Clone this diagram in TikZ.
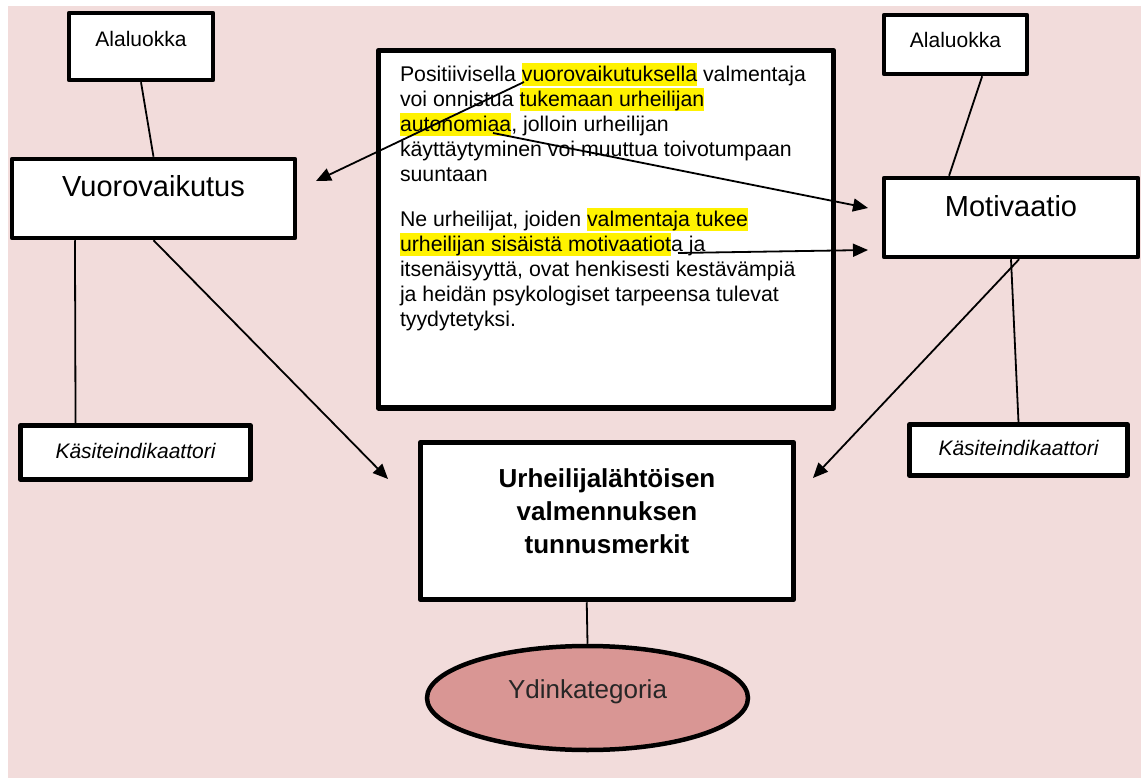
\documentclass[tikz,border=0pt]{standalone}
\usepackage{fontspec}
\setmainfont{Liberation Sans}
\usetikzlibrary{arrows.meta,shapes.geometric,calc}
\definecolor{bgpink}{HTML}{F2DCDB}
\definecolor{corepink}{HTML}{D99694}
\newcommand{\markword}[1]{{\setlength{\fboxsep}{0pt}\colorbox{yellow}{\rule[-4pt]{0pt}{23pt}#1}}}
\begin{document}
\begin{tikzpicture}[x=1pt,y=-1pt,
	box/.style={draw,line width=4.5pt,fill=white,inner sep=0pt,line join=round},
	conn/.style={line width=1.8pt},
	arr/.style={conn,-{Triangle[length=15pt,width=13pt]}}]
	\useasboundingbox (0,0) rectangle (1141,778);
	\fill[white] (0,0) rectangle (1141,778);
	\fill[bgpink] (8,6) rectangle (1141,778);
	% luokat
	\node[box,minimum width=144pt,text height=34pt,text depth=33pt,font=\fontsize{21}{25}\selectfont] (aleft) at (141,46.5) {Alaluokka};
	\node[box,minimum width=143pt,text height=33pt,text depth=26pt,font=\fontsize{21}{25}\selectfont] (aright) at (955.5,44.5) {Alaluokka};
	\node[box,minimum width=283pt,text height=38pt,text depth=41pt,font=\fontsize{29}{34}\selectfont] (vuoro) at (153.5,198.5) {Vuorovaikutus};
	\node[box,minimum width=254pt,text height=39pt,text depth=40pt,font=\fontsize{29}{34}\selectfont] (motiv) at (1011,217.5) {Motivaatio};
	\node[box,minimum width=230pt,text height=32.5pt,text depth=21.5pt,font=\fontsize{21}{25}\selectfont\itshape] (kasL) at (135.5,452.5) {Käsiteindikaattori};
	\node[box,minimum width=218pt,text height=30.5pt,text depth=20.5pt,font=\fontsize{21}{25}\selectfont\itshape] (kasR) at (1018.5,450) {Käsiteindikaattori};
	% aineisto
	\node[box,line width=5.5pt,minimum width=455pt,text height=31.5pt,text depth=326pt] (quote) at (606,229.25) {\parbox[t]{412pt}{\raggedright\fontsize{21.3}{25}\selectfont
		Positiivisella \markword{vuorovaikutuksella} valmentaja\\
		voi onnistua \markword{tukemaan urheilijan}\\
		\markword{autonomiaa}, jolloin urheilijan\\
		käyttäytyminen voi muuttua toivotumpaan\\
		suuntaan\\[20pt]
		Ne urheilijat, joiden \markword{valmentaja tukee}\\
		\markword{urheilijan sisäistä motivaatiot}a ja\\
		itsenäisyyttä, ovat henkisesti kestävämpiä\\
		ja heidän psykologiset tarpeensa tulevat\\
		tyydytetyksi.}};
	\node[box,line width=5.5pt,minimum width=373pt,text height=44.5pt,text depth=112.5pt] (core) at (607,521) {\parbox[t]{360pt}{\centering\bfseries\fontsize{26}{33}\selectfont Urheilijalähtöisen\\valmennuksen\\tunnusmerkit}};
	\node[ellipse,draw,line width=4.5pt,fill=corepink,inner sep=0pt,minimum width=321pt,minimum height=104pt,text height=12pt,text depth=12pt,text=black!85,font=\fontsize{26}{30}\selectfont] (ydin) at (587.5,698) {Ydinkategoria};
	% vapaat päät
	\coordinate (wV) at (524,82);
	\coordinate (wA) at (493,133);
	\coordinate (wJ) at (678,253);
	\coordinate (tipV) at (316,181);
	\coordinate (tipM1) at (868,208);
	\coordinate (tipM2) at (868,250);
	\coordinate (tipCL) at (388,479);
	\coordinate (tipCR) at (813,478);
	% yhteydet
	\draw[conn] (aleft.south) -- (vuoro.north);
	\draw[conn] (aright.-50) -- (motiv.146);
	\draw[conn] (vuoro.-152) -- (kasL.154);
	\draw[conn] (motiv.south) -- (kasR.north);
	\draw[conn] (core.-104) -- (ydin.north);
	\draw[arr] (vuoro.south) -- (tipCL);
	\draw[arr] (motiv.-79) -- (tipCR);
	\draw[arr] (wV) -- (tipV);
	\draw[arr] (wA) -- (tipM1);
	\draw[arr] (wJ) -- (tipM2);
\end{tikzpicture}
\end{document}
